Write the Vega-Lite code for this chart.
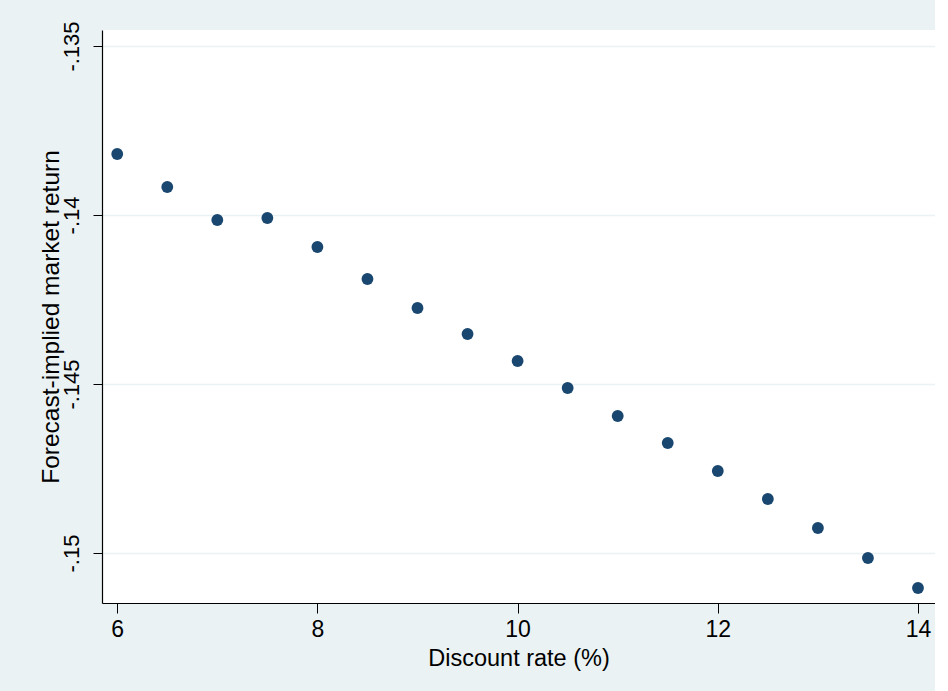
{
  "$schema": "https://vega.github.io/schema/vega-lite/v6.json",
  "autosize": {"type": "none"},
  "width": 833,
  "height": 573,
  "padding": {"left": 102, "top": 30, "right": 0, "bottom": 88},
  "background": "#EAF2F3",
  "config": {
    "view": {"fill": "white", "stroke": null},
    "font": "Liberation Sans"
  },
  "data": {
    "values": [
      {"rate": 6, "ret": -0.138195},
      {"rate": 6.5, "ret": -0.139172},
      {"rate": 7, "ret": -0.140148},
      {"rate": 7.5, "ret": -0.140089},
      {"rate": 8, "ret": -0.140947},
      {"rate": 8.5, "ret": -0.141893},
      {"rate": 9, "ret": -0.142751},
      {"rate": 9.5, "ret": -0.143521},
      {"rate": 10, "ret": -0.14432},
      {"rate": 10.5, "ret": -0.145118},
      {"rate": 11, "ret": -0.145947},
      {"rate": 11.5, "ret": -0.146746},
      {"rate": 12, "ret": -0.147574},
      {"rate": 12.5, "ret": -0.148402},
      {"rate": 13, "ret": -0.14926},
      {"rate": 13.5, "ret": -0.150148},
      {"rate": 14, "ret": -0.151036}
    ]
  },
  "mark": {"type": "point", "filled": true, "opacity": 1, "size": 140, "color": "#1A476F"},
  "encoding": {
    "x": {
      "field": "rate",
      "type": "quantitative",
      "scale": {"domain": [5.848, 14.17], "nice": false, "zero": false},
      "axis": {
        "values": [6, 8, 10, 12, 14],
        "title": "Discount rate (%)",
        "titleFontSize": 23.5,
        "titleFontWeight": "normal",
        "titleColor": "black",
        "titlePadding": 5,
        "labelFontSize": 23,
        "labelColor": "black",
        "labelPadding": 5,
        "tickSize": 10,
        "tickColor": "black",
        "domainColor": "black",
        "domainWidth": 1.2,
        "grid": false
      }
    },
    "y": {
      "field": "ret",
      "type": "quantitative",
      "scale": {"domain": [-0.151479, -0.134527], "nice": false, "zero": false},
      "axis": {
        "values": [-0.135, -0.14, -0.145, -0.15],
        "labelExpr": "replace(replace(format(datum.value, '.3~f'), '\u2212', '-'), '0.', '.')",
        "title": "Forecast-implied market return",
        "titleFontSize": 24.5,
        "titleFontWeight": "normal",
        "titleColor": "black",
        "titlePadding": -3,
        "labelFontSize": 22,
        "labelColor": "black",
        "labelAngle": -90,
        "labelPadding": 10,
        "tickSize": 9,
        "tickColor": "black",
        "domainColor": "black",
        "domainWidth": 1.2,
        "grid": true,
        "gridColor": "#EAF2F3",
        "gridWidth": 1.5
      }
    }
  }
}
